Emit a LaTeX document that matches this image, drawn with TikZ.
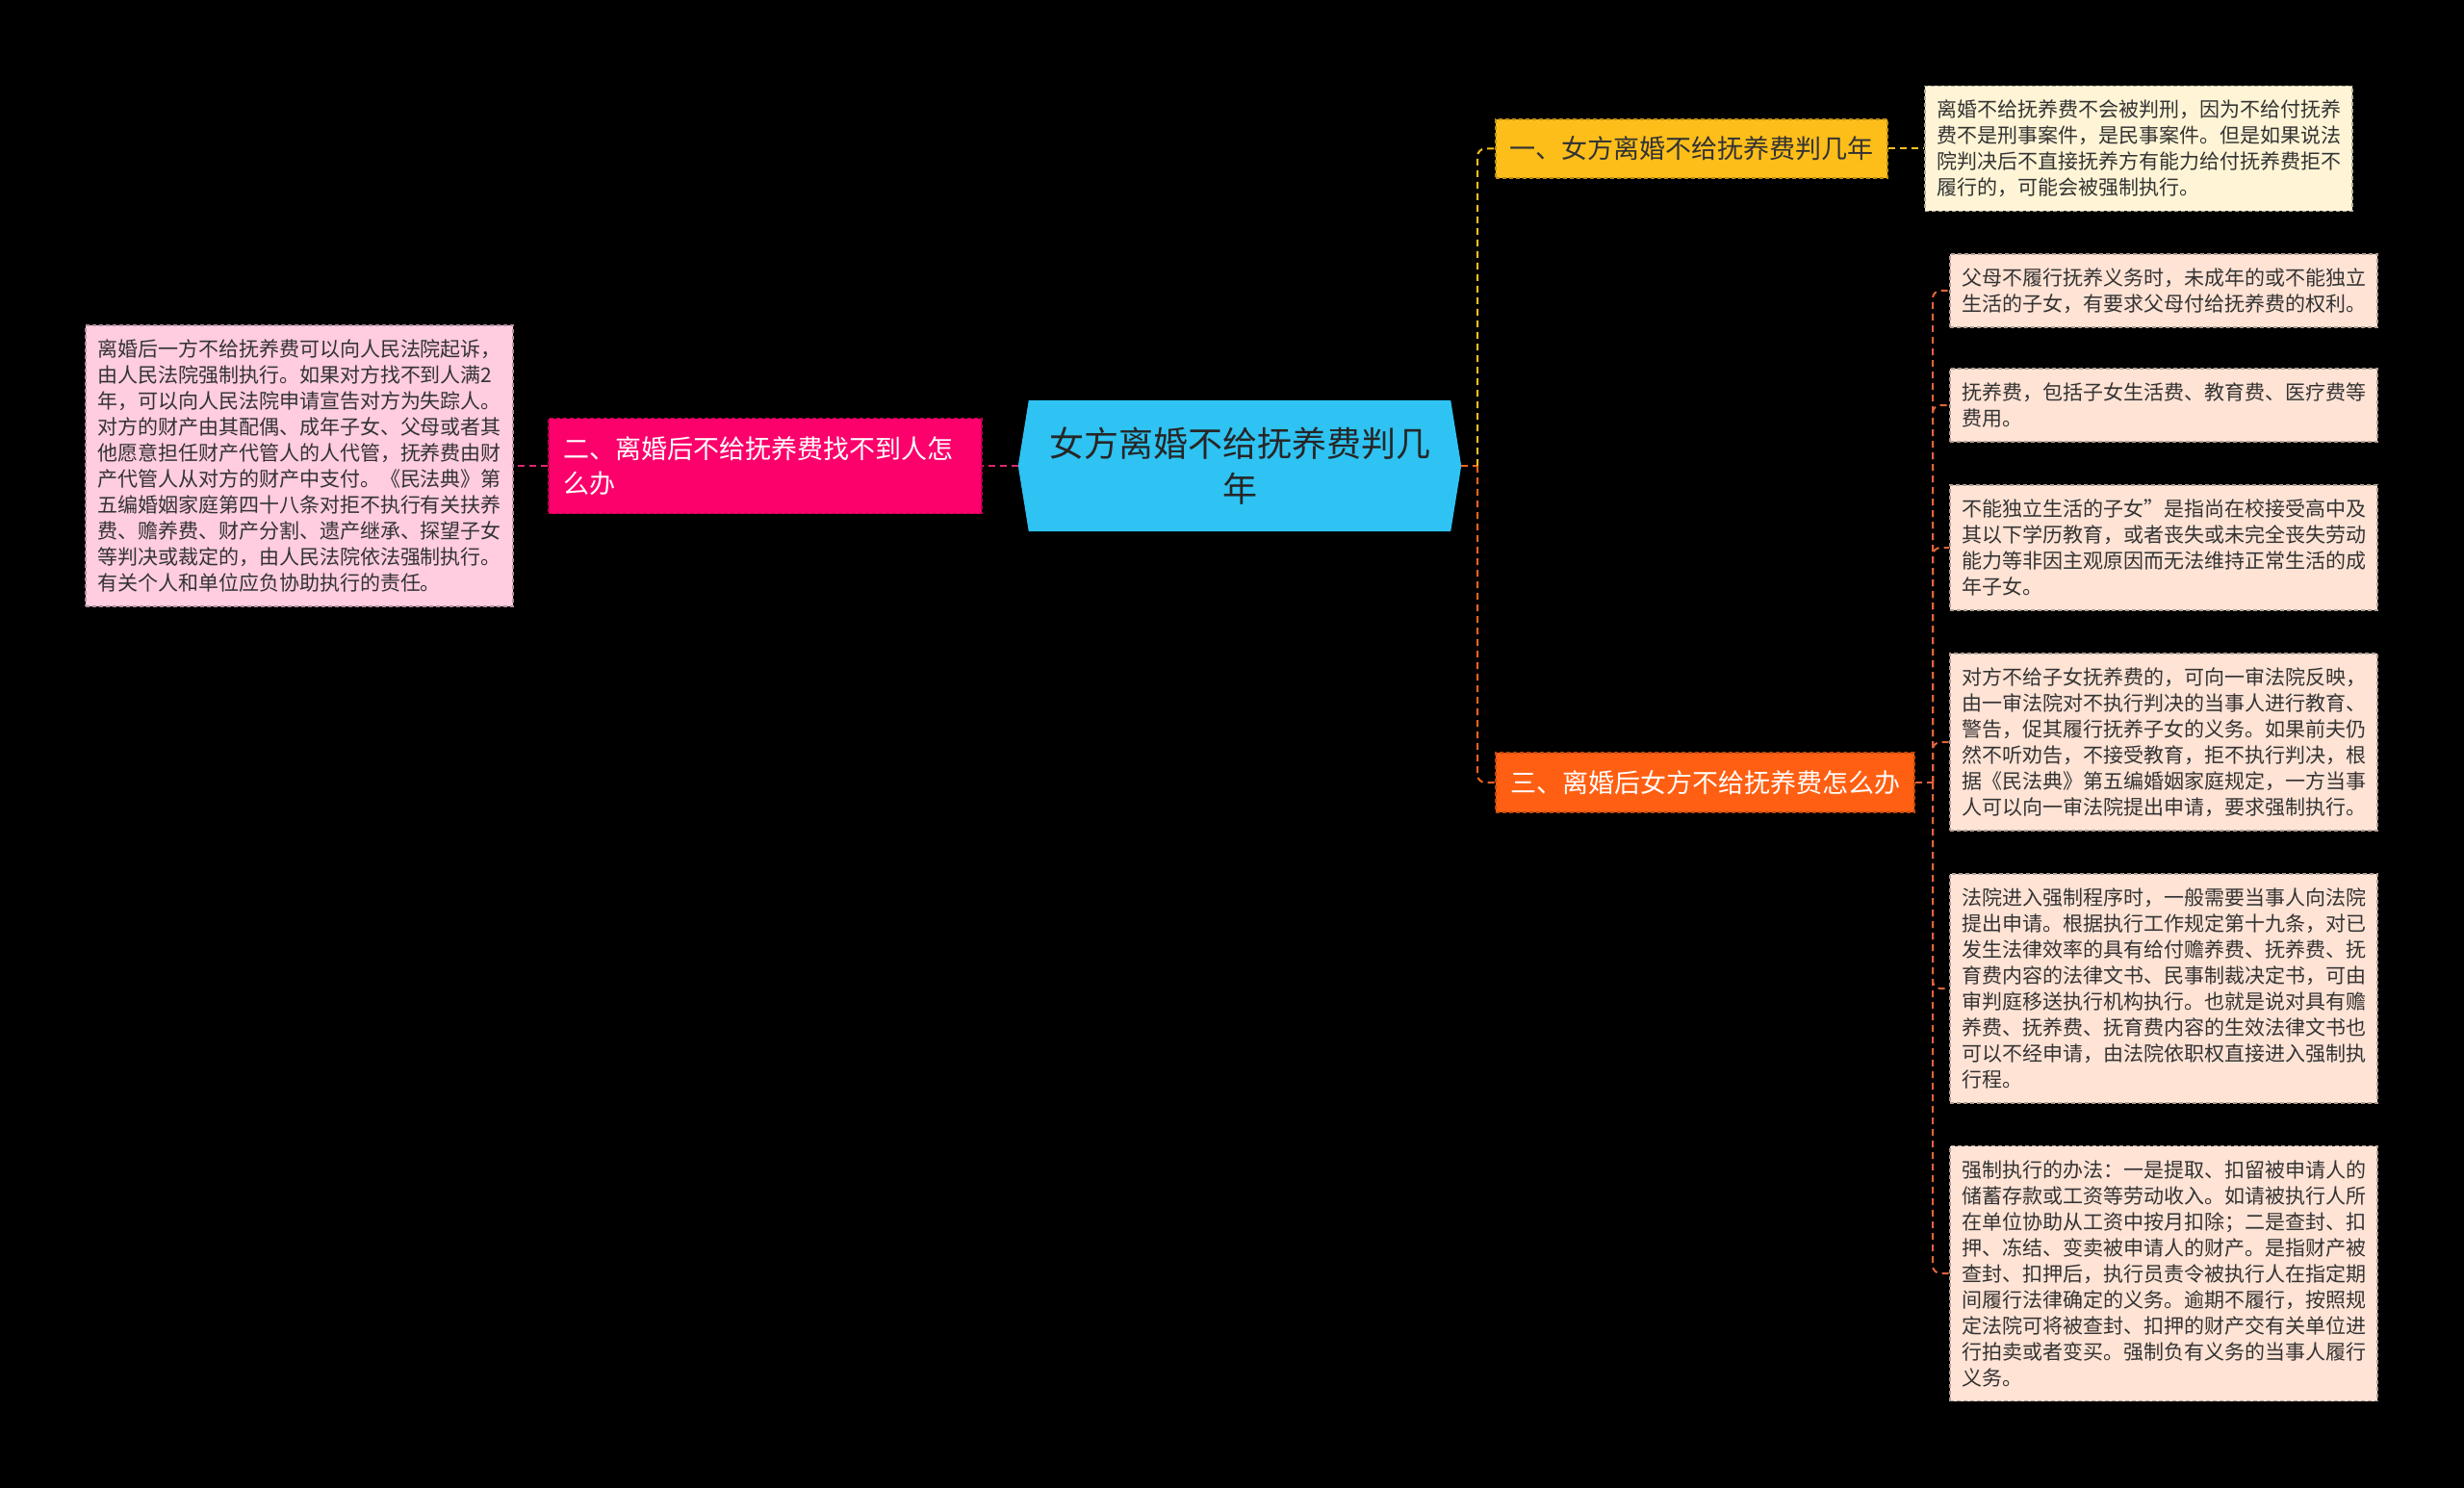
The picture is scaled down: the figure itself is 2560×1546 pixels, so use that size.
\documentclass[tikz,border=0pt]{standalone}
\usepackage{fontspec}
\newfontfamily\cjk{Noto Sans CJK SC}
\usetikzlibrary{backgrounds}
\definecolor{rootfill}{HTML}{2EC3F3}
\definecolor{roottext}{HTML}{262626}
\definecolor{pinkfill}{HTML}{FC006B}
\definecolor{pinkline}{HTML}{E0266F}
\definecolor{lpink}{HTML}{FFCCE0}
\definecolor{yelfill}{HTML}{FDBE1A}
\definecolor{yelline}{HTML}{F4C21F}
\definecolor{cream}{HTML}{FFF5D6}
\definecolor{orafill}{HTML}{FF5F12}
\definecolor{oraline}{HTML}{F0641E}
\definecolor{peach}{HTML}{FFE3D5}
\definecolor{peachline}{HTML}{E0643C}
\definecolor{leaftext}{HTML}{333333}
\begin{document}
\begin{tikzpicture}[x=1pt,y=-1pt,
  conn/.style={line width=2pt, dash pattern=on 7pt off 5pt, rounded corners=8pt},
  leafbase/.style={rectangle, line width=1.2pt, dash pattern=on 4pt off 3pt,
    text width=420pt, align=left, inner xsep=12pt, inner ysep=0pt,
    font=\cjk\fontsize{21}{27}\selectfont, text=leaftext},
  nl/.style={minimum height={22pt+27pt*#1}},
  leafpink/.style={leafbase, fill=lpink, draw=lpink!70!black},
  leafcream/.style={leafbase, fill=cream, draw=cream!70!black},
  leafpeach/.style={leafbase, fill=peach, draw=peach!70!black},
  topic/.style={rectangle, line width=1.2pt, dash pattern=on 4pt off 3pt,
    inner sep=0pt, font=\cjk\fontsize{27}{36}\selectfont},
  rootbox/.style={rectangle, inner sep=0pt, minimum width=460pt, minimum height=136pt,
    align=center, font=\cjk\fontsize{36}{47}\selectfont, text=roottext}
]
\useasboundingbox (0,0) rectangle (2560,1546);
\begin{scope}[on background layer]
\fill[black] (0,0) rectangle (2560,1546);
\end{scope}

% root
\node[rootbox] (root) at (1288,484) {女方离婚不给抚养费判几\\年};
\begin{scope}[on background layer]
\fill[rootfill] (root.west) -- ([xshift=11pt]root.north west) -- ([xshift=-11pt]root.north east)
  -- (root.east) -- ([xshift=-11pt]root.south east) -- ([xshift=11pt]root.south west) -- cycle;
\end{scope}

% left branch
\node[topic, fill=pinkfill, draw=pinkfill!75!black, text=white, minimum width=450pt,
  minimum height=99pt, text width=420pt, align=left] (n2) at (795,484)
  {二、离婚后不给抚养费找不到人怎\\么办};
\node[leafpink, nl=10] (l2) at (311,484)
  {离婚后一方不给抚养费可以向人民法院起诉，\\
   由人民法院强制执行。如果对方找不到人满2\\
   年，可以向人民法院申请宣告对方为失踪人。\\
   对方的财产由其配偶、成年子女、父母或者其\\
   他愿意担任财产代管人的人代管，抚养费由财\\
   产代管人从对方的财产中支付。《民法典》第\\
   五编婚姻家庭第四十八条对拒不执行有关扶养\\
   费、赡养费、财产分割、遗产继承、探望子女\\
   等判决或裁定的，由人民法院依法强制执行。\\
   有关个人和单位应负协助执行的责任。};

% branch 1
\node[topic, fill=yelfill, draw=yelfill!75!black, text=leaftext, minimum width=407pt,
  minimum height=61pt] (n1) at (1757.5,154.5) {一、女方离婚不给抚养费判几年};
\node[leafcream, nl=4] (l1) at (2222,154.5)
  {离婚不给抚养费不会被判刑，因为不给付抚养\\
   费不是刑事案件，是民事案件。但是如果说法\\
   院判决后不直接抚养方有能力给付抚养费拒不\\
   履行的，可能会被强制执行。};

% branch 3
\node[topic, fill=orafill, draw=orafill!75!black, text=white, minimum width=435pt,
  minimum height=62pt] (n3) at (1771.5,813) {三、离婚后女方不给抚养费怎么办};
\node[leafpeach, nl=2] (la) at (2248,302)
  {父母不履行抚养义务时，未成年的或不能独立\\
   生活的子女，有要求父母付给抚养费的权利。};
\node[leafpeach, nl=2] (lb) at (2248,421)
  {抚养费，包括子女生活费、教育费、医疗费等\\
   费用。};
\node[leafpeach, nl=4] (lc) at (2248,569)
  {不能独立生活的子女”是指尚在校接受高中及\\
   其以下学历教育，或者丧失或未完全丧失劳动\\
   能力等非因主观原因而无法维持正常生活的成\\
   年子女。};
\node[leafpeach, nl=6] (ld) at (2248,771)
  {对方不给子女抚养费的，可向一审法院反映，\\
   由一审法院对不执行判决的当事人进行教育、\\
   警告，促其履行抚养子女的义务。如果前夫仍\\
   然不听劝告，不接受教育，拒不执行判决，根\\
   据《民法典》第五编婚姻家庭规定，一方当事\\
   人可以向一审法院提出申请，要求强制执行。};
\node[leafpeach, nl=8] (le) at (2248,1027)
  {法院进入强制程序时，一般需要当事人向法院\\
   提出申请。根据执行工作规定第十九条，对已\\
   发生法律效率的具有给付赡养费、抚养费、抚\\
   育费内容的法律文书、民事制裁决定书，可由\\
   审判庭移送执行机构执行。也就是说对具有赡\\
   养费、抚养费、抚育费内容的生效法律文书也\\
   可以不经申请，由法院依职权直接进入强制执\\
   行程。};
\node[leafpeach, nl=9] (lf) at (2248,1323)
  {强制执行的办法：一是提取、扣留被申请人的\\
   储蓄存款或工资等劳动收入。如请被执行人所\\
   在单位协助从工资中按月扣除；二是查封、扣\\
   押、冻结、变卖被申请人的财产。是指财产被\\
   查封、扣押后，执行员责令被执行人在指定期\\
   间履行法律确定的义务。逾期不履行，按照规\\
   定法院可将被查封、扣押的财产交有关单位进\\
   行拍卖或者变买。强制负有义务的当事人履行\\
   义务。};

% connectors
\coordinate (rj) at (1535,484);
\coordinate (tj) at (2008,813);
\draw[conn, pinkline] (root.west) -- (n2.east);
\draw[conn, pinkline] (n2.west) -- (l2.east);
\draw[conn, oraline] (root.east) -- (rj);
\draw[conn, yelline] (rj) |- (n1.west);
\draw[conn, oraline] (rj) |- (n3.west);
\draw[conn, yelline] (n1.east) -- (l1.west);
\draw[conn, peachline] (n3.east) -- (tj);
\foreach \l in {la,lb,lc,ld,le,lf}{
  \draw[conn, peachline] (tj) |- (\l.west);
}
\end{tikzpicture}
\end{document}
